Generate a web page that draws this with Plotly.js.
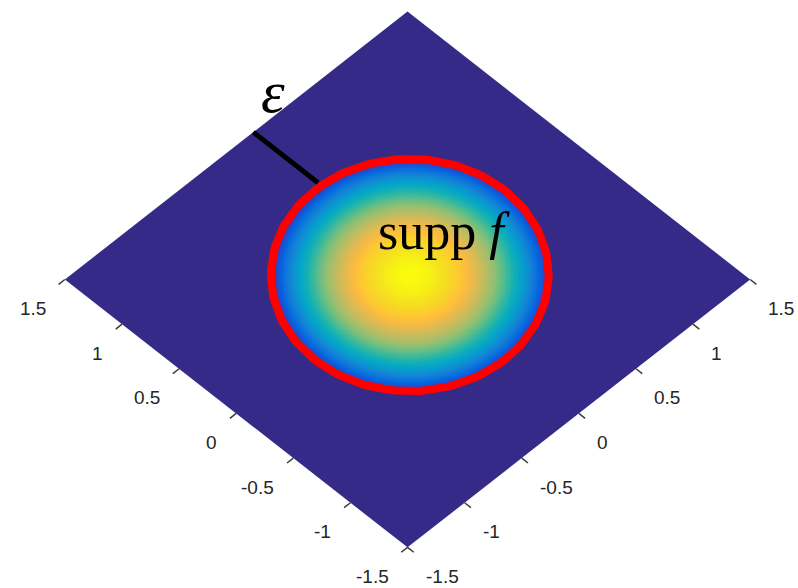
<!DOCTYPE html>
<html>
<head>
<meta charset="utf-8">
<script src="https://cdn.plot.ly/plotly-3.0.1.min.js"></script>
<style>
  html, body { margin: 0; padding: 0; background: #ffffff; }
  #chart { width: 798px; height: 588px; }
</style>
</head>
<body>
<div id="chart"></div>
<script>
// Domain of the plot: the square [-1.5, 1.5] x [-1.5, 1.5]
const domainMin = -1.5;
const domainMax = 1.5;

// Tick values and their labels (same for both axes of the square)
const tickValues = [-1.5, -1, -0.5, 0, 0.5, 1, 1.5];
const tickLabels = ['-1.5', '-1', '-0.5', '0', '0.5', '1', '1.5'];

// Support of f: an ellipse whose axes lie along the diagonals of the square
const supportCenter = [0.035, 0.015];
const supportSemiAxisAcross = 0.86;   // along the x = -y diagonal
const supportSemiAxisAlong = 0.92;    // along the x = y diagonal
const peakValue = 1;

// Segment marking the distance epsilon from the support to the edge y = 1.5
const epsilonX = 0.15;
const epsilonEdgeY = 1.5;
const outlineHalfWidth = 0.03;        // the segment stops at the outer side of the red outline

// Parula colour map
const parula = [
  [0.000, 'rgb(53,42,135)'],
  [0.079, 'rgb(44,74,199)'],
  [0.127, 'rgb(3,99,225)'],
  [0.190, 'rgb(13,117,220)'],
  [0.254, 'rgb(20,133,212)'],
  [0.317, 'rgb(9,152,209)'],
  [0.381, 'rgb(6,167,198)'],
  [0.444, 'rgb(21,177,180)'],
  [0.508, 'rgb(56,185,158)'],
  [0.571, 'rgb(101,190,134)'],
  [0.635, 'rgb(146,191,115)'],
  [0.698, 'rgb(183,189,100)'],
  [0.762, 'rgb(217,186,86)'],
  [0.825, 'rgb(248,186,68)'],
  [0.857, 'rgb(255,195,55)'],
  [0.905, 'rgb(249,211,42)'],
  [0.952, 'rgb(245,228,29)'],
  [1.000, 'rgb(249,251,14)']
];

// View from above the square, rotated 45 degrees and tilted:
// horizontal view coordinate = x - y, vertical view coordinate = x + y.
// The tilt is expressed by the different ranges (pixels per unit) of the two view axes.
const viewXRange = [-3.568, 3.419];
const viewYRange = [-3.455, 3.130];
function toView(x, y) { return [x - y, x + y]; }
function fromView(X, Y) { return [(X + Y) / 2, (Y - X) / 2]; }

// Normalised elliptical radius of a point relative to the support
function supportRadius(x, y) {
  const dx = x - supportCenter[0];
  const dy = y - supportCenter[1];
  const u = (dx - dy) / Math.SQRT2;
  const v = (dx + dy) / Math.SQRT2;
  return Math.sqrt((u / supportSemiAxisAcross) ** 2 + (v / supportSemiAxisAlong) ** 2);
}

// f = peak * (1 - rho^2) inside the support, 0 outside
function f(x, y) {
  const rho = supportRadius(x, y);
  return rho < 1 ? peakValue * (1 - rho * rho) : 0;
}

// Colour field of f, sampled on the view grid over the support's bounding box
const cView = toView(supportCenter[0], supportCenter[1]);
const halfW = supportSemiAxisAcross * Math.SQRT2 + 0.06;
const halfH = supportSemiAxisAlong * Math.SQRT2 + 0.06;
const stepX = 0.012, stepY = 0.015;
const hx = [], hy = [], hz = [];
for (let X = cView[0] - halfW; X <= cView[0] + halfW; X += stepX) hx.push(X);
for (let Y = cView[1] - halfH; Y <= cView[1] + halfH; Y += stepY) hy.push(Y);
hy.forEach(Y => {
  const row = [];
  hx.forEach(X => {
    const p = fromView(X, Y);
    row.push(f(p[0], p[1]));
  });
  hz.push(row);
});
const field = {
  type: 'heatmap',
  x: hx, y: hy, z: hz,
  zmin: 0, zmax: peakValue,
  colorscale: parula,
  zsmooth: 'best',
  showscale: false,
  hoverinfo: 'skip'
};

// Boundary of the support (red outline)
const ringX = [], ringY = [];
for (let k = 0; k <= 360; k += 2) {
  const th = k * Math.PI / 180;
  const u = supportSemiAxisAcross * Math.cos(th);
  const v = supportSemiAxisAlong * Math.sin(th);
  const p = toView(supportCenter[0] + (u + v) / Math.SQRT2, supportCenter[1] + (v - u) / Math.SQRT2);
  ringX.push(p[0]);
  ringY.push(p[1]);
}
const ring = {
  type: 'scatter', mode: 'lines',
  x: ringX, y: ringY,
  line: { color: 'rgb(255,0,0)', width: 8 },
  hoverinfo: 'skip', showlegend: false
};

// Inner end of the epsilon segment on the support boundary (bisection along x = epsilonX)
let lo = supportCenter[1], hi = epsilonEdgeY;
for (let it = 0; it < 60; it++) {
  const mid = (lo + hi) / 2;
  if (supportRadius(epsilonX, mid) < 1) lo = mid; else hi = mid;
}
const epsA = toView(epsilonX, epsilonEdgeY);
const epsB = toView(epsilonX, lo + outlineHalfWidth);
const epsSegment = {
  type: 'scatter', mode: 'lines',
  x: [epsA[0], epsB[0]], y: [epsA[1], epsB[1]],
  line: { color: 'rgb(0,0,0)', width: 5 },
  hoverinfo: 'skip', showlegend: false
};

// Tick marks on the two front edges of the square
const tickLen = 0.055;
const tx = [], ty = [];
tickValues.forEach(v => {
  const a0 = toView(domainMin, v), a1 = toView(domainMin - tickLen, v);
  const b0 = toView(v, domainMin), b1 = toView(v, domainMin - tickLen);
  tx.push(a0[0], a1[0], null, b0[0], b1[0], null);
  ty.push(a0[1], a1[1], null, b0[1], b1[1], null);
});
const ticks = {
  type: 'scatter', mode: 'lines',
  x: tx, y: ty,
  line: { color: 'rgb(60,60,60)', width: 1.5 },
  hoverinfo: 'skip', showlegend: false, connectgaps: false
};

// The square itself (flat part of the surface, f = 0)
const corners = [[domainMin, domainMin], [domainMax, domainMin], [domainMax, domainMax], [domainMin, domainMax]]
  .map(c => toView(c[0], c[1]));
const squarePath = 'M ' + corners.map(c => c[0] + ',' + c[1]).join(' L ') + ' Z';

const tickFont = { family: 'Liberation Sans, Arial, sans-serif', size: 19, color: 'rgb(38,38,38)' };
const annotations = [];
tickValues.forEach((v, i) => {
  const a = toView(domainMin, v);
  annotations.push({
    x: a[0], y: a[1], xref: 'x', yref: 'y', text: tickLabels[i], showarrow: false,
    xanchor: 'right', yanchor: 'middle', xshift: -17, yshift: -29, font: tickFont
  });
  const b = toView(v, domainMin);
  annotations.push({
    x: b[0], y: b[1], xref: 'x', yref: 'y', text: tickLabels[i], showarrow: false,
    xanchor: 'left', yanchor: 'middle', xshift: 16, yshift: -29, font: tickFont
  });
});
const suppPos = toView(0.43, 0.11);
annotations.push({
  x: suppPos[0], y: suppPos[1], xref: 'x', yref: 'y', text: 'supp <i>f</i>', showarrow: false,
  xanchor: 'center', yanchor: 'middle',
  font: { family: 'Liberation Serif, Times New Roman, serif', size: 52, color: '#000000' }
});
annotations.push({
  x: epsA[0], y: epsA[1], xref: 'x', yref: 'y', text: '<i>ε</i>', showarrow: false,
  xanchor: 'center', yanchor: 'middle', xshift: 20, yshift: 40,
  font: { family: 'Liberation Serif, Times New Roman, serif', size: 60, color: '#000000' }
});

const layout = {
  width: 798, height: 588,
  margin: { l: 0, r: 0, t: 0, b: 0 },
  paper_bgcolor: '#ffffff',
  plot_bgcolor: '#ffffff',
  showlegend: false,
  hovermode: false,
  xaxis: { range: viewXRange, visible: false, fixedrange: true },
  yaxis: { range: viewYRange, visible: false, fixedrange: true },
  shapes: [{
    type: 'path', path: squarePath, xref: 'x', yref: 'y', layer: 'below',
    fillcolor: 'rgb(53,42,135)', line: { width: 0 }
  }],
  annotations: annotations
};

Plotly.newPlot('chart', [field, ring, epsSegment, ticks], layout, { displayModeBar: false, staticPlot: true });
</script>
</body>
</html>
